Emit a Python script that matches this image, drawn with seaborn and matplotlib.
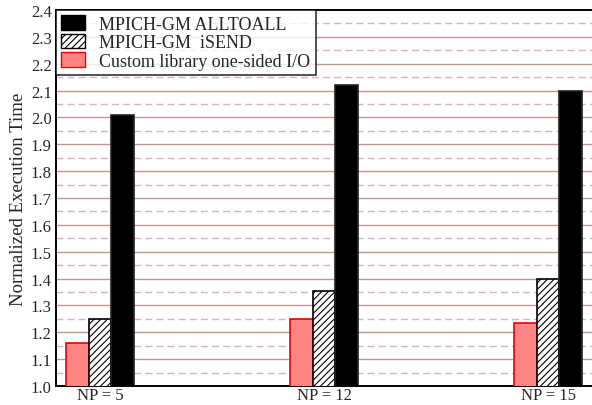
import matplotlib
matplotlib.use("Agg")
import matplotlib.pyplot as plt
import seaborn as sns
import pandas as pd
from matplotlib.patches import Patch

# Normalized execution times per process count
groups = ["NP = 5", "NP = 12", "NP = 15"]
custom_onesided = [1.16, 1.25, 1.235]
mpich_isend = [1.25, 1.355, 1.40]
mpich_alltoall = [2.01, 2.12, 2.10]

series = ["Custom library one-sided I/O", "MPICH-GM  iSEND", "MPICH-GM ALLTOALL"]

rows = []
for g, a, b, c in zip(groups, custom_onesided, mpich_isend, mpich_alltoall):
    rows.append((g, series[0], a))
    rows.append((g, series[1], b))
    rows.append((g, series[2], c))
df = pd.DataFrame(rows, columns=["group", "series", "value"])

sns.set_style("white")
plt.rcParams["font.family"] = ["Liberation Serif", "DejaVu Serif"]
plt.rcParams["hatch.linewidth"] = 0.8

fig = plt.figure(figsize=(5.92, 4.06), dpi=100)
ax = fig.add_axes([56 / 592, 19 / 406, 536 / 592, 376 / 406])

styles = {
    series[0]: dict(facecolor="#ff8585", edgecolor="#ee0000", hatch=None),
    series[1]: dict(facecolor="white", edgecolor="black", hatch="/////"),
    series[2]: dict(facecolor="black", edgecolor="#222222", hatch=None),
}

sns.barplot(data=df, x="group", y="value", hue="series", hue_order=series,
            order=groups, width=0.3, gap=0.0, ax=ax, legend=False,
            saturation=1, zorder=3)

for cont, name in zip(ax.containers, series):
    st = styles[name]
    for p in cont:
        p.set_facecolor(st["facecolor"])
        p.set_edgecolor(st["edgecolor"])
        p.set_linewidth(1.2)
        if st["hatch"]:
            p.set_hatch(st["hatch"])

ax.set_ylim(1.0, 2.4)
ax.set_xlim(-0.196, 2.196)
ax.set_yticks([1.0 + 0.1 * i for i in range(15)])
ax.set_yticklabels([f"{1.0 + 0.1 * i:.1f}" for i in range(15)], fontsize=12)
ax.tick_params(axis="x", labelsize=12, length=0, pad=1)
ax.tick_params(axis="y", length=0, pad=3)

# grid: solid at tenths, dashed at half-steps
for i in range(1, 14):
    ax.axhline(1.0 + 0.1 * i, color="#c49494", lw=1.0, zorder=1)
for i in range(14):
    ax.axhline(1.05 + 0.1 * i, color="#d8b4b4", lw=1.0, ls=(0, (5, 3)), zorder=1)

ax.set_xlabel("")
ax.set_ylabel("Normalized Execution Time", fontsize=13.5, labelpad=3)

for side in ["left", "bottom", "top"]:
    ax.spines[side].set_color("black")
    ax.spines[side].set_linewidth(1.4)
ax.spines["right"].set_visible(False)

handles = [
    Patch(facecolor="black", edgecolor="black", label="MPICH-GM ALLTOALL"),
    Patch(facecolor="white", edgecolor="black", hatch="/////", label="MPICH-GM  iSEND"),
    Patch(facecolor="#ff8585", edgecolor="#ee0000", label="Custom library one-sided I/O"),
]
leg = ax.legend(handles=handles, loc="upper left", fontsize=13, frameon=True,
                fancybox=False, borderaxespad=0, handlelength=1.3,
                handleheight=0.85, labelspacing=0.05, borderpad=0.3,
                handletextpad=0.8)
leg.get_frame().set_edgecolor("black")
leg.get_frame().set_linewidth(1.2)
leg.set_zorder(5)

fig.savefig("out.png", dpi=100)
